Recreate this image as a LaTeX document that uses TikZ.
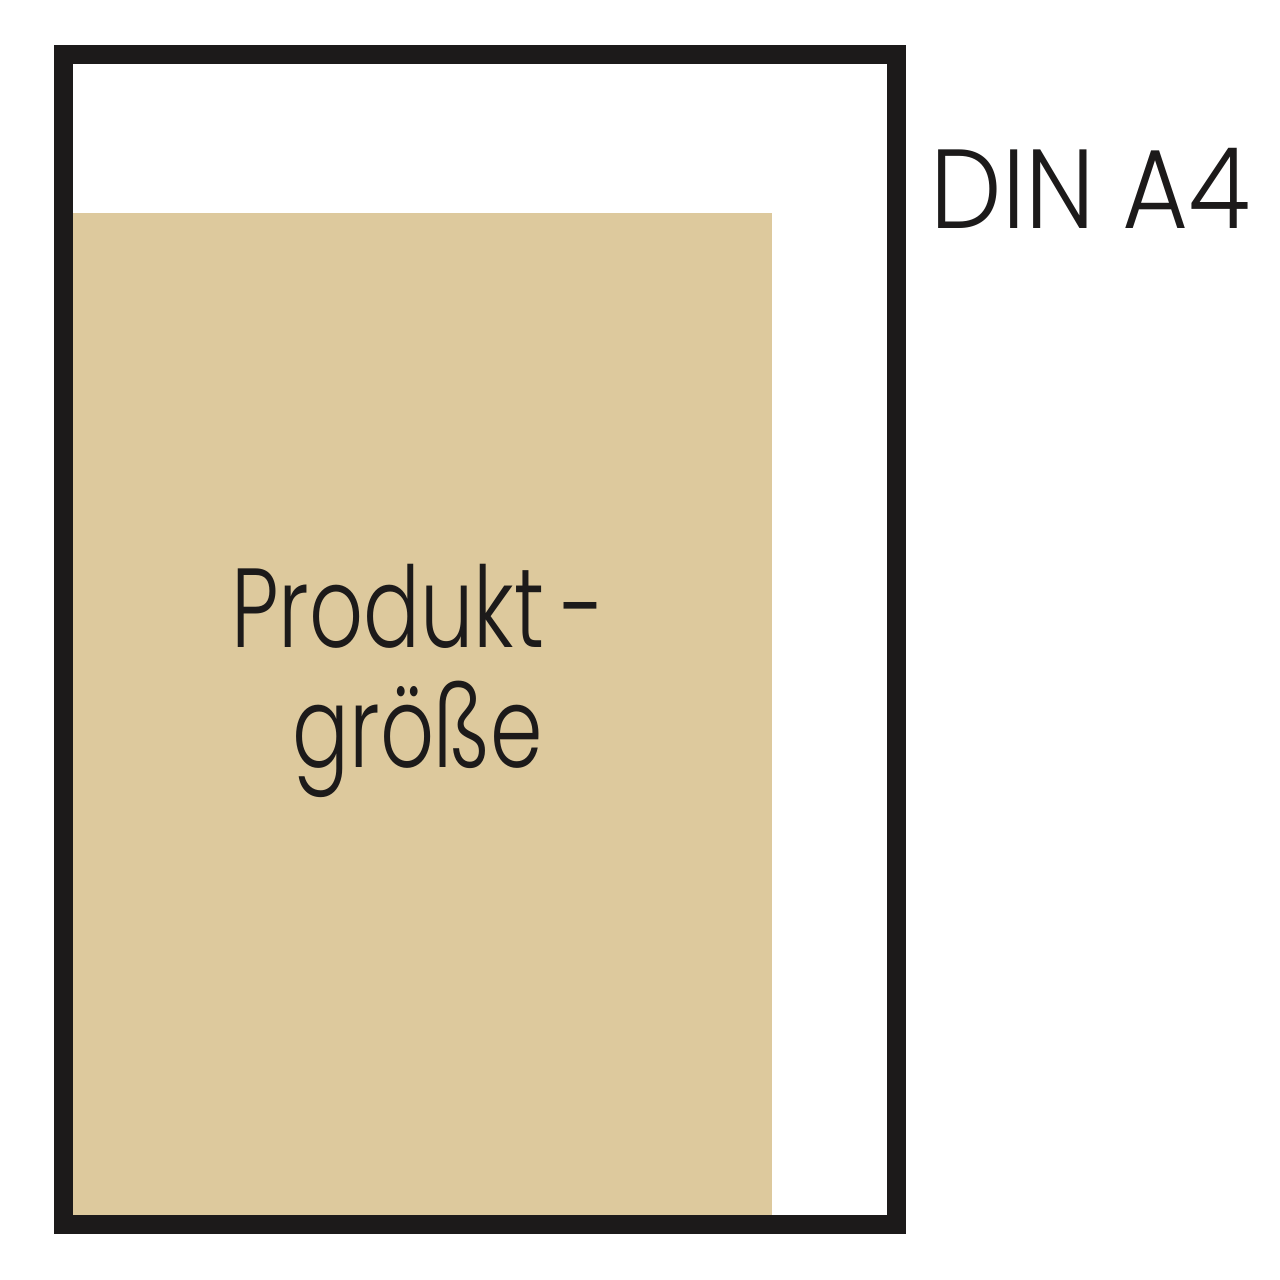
\documentclass[tikz,border=0pt]{standalone}
\usepackage{fontspec}
\setmainfont{Poppins Light}
\newfontfamily\dinfont{Poppins Light}[FakeStretch=0.9]
\newfontfamily\narrowfont{Poppins Light}[FakeStretch=0.75]
\definecolor{beige}{HTML}{DDC99D}
\definecolor{frameblack}{HTML}{1C1A1A}

\begin{document}
\begin{tikzpicture}[x=0.01cm, y=-0.01cm]
    \useasboundingbox (0,0) rectangle (1280,1280);
    \fill[beige] (73,213) rectangle (772,1215);
    \draw[frameblack, line width=19*0.2845pt] (63.5,55) rectangle (896.5,1224.5);
    \node[anchor=base west, inner sep=0pt, font=\dinfont\fontsize{32}{32}\selectfont, text=frameblack] (din) at (930,229) {DIN A4};
    \node[align=center, inner sep=0pt, font=\narrowfont\fontsize{32}{34}\selectfont, text=frameblack] (produkt) at (418,681) {Produkt\kern0.15em-\\größe};
\end{tikzpicture}
\end{document}
